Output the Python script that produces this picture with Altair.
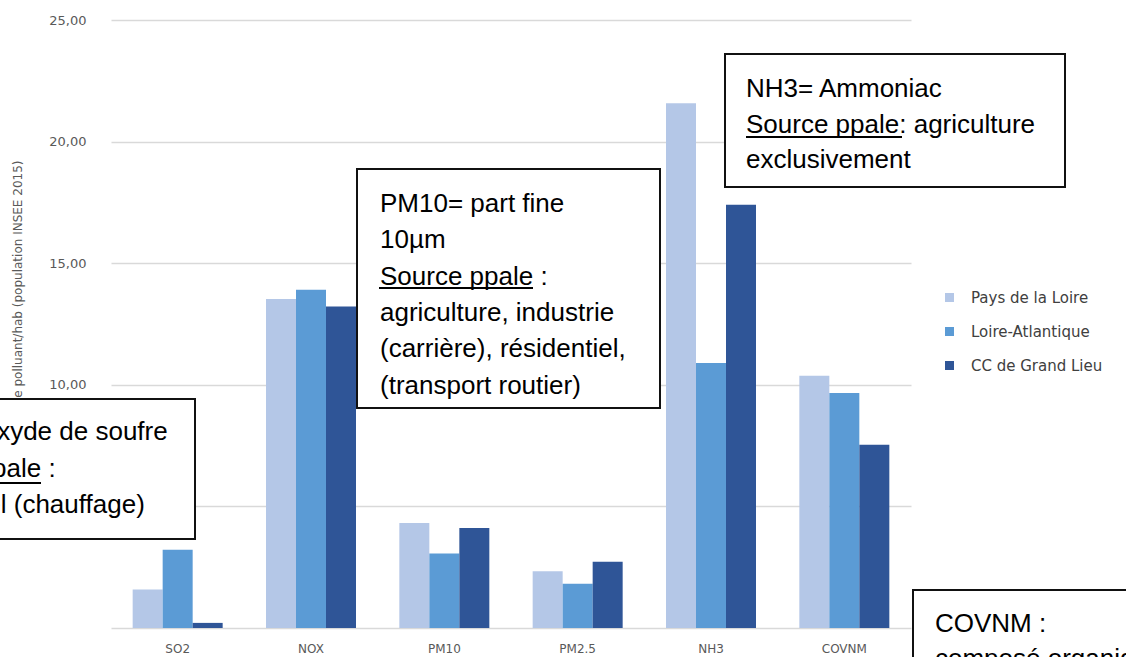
import altair as alt
import pandas as pd

# Emissions per inhabitant, by pollutant and territory
categories = ["SO2", "NOX", "PM10", "PM2.5", "NH3", "COVNM"]
series = ["Pays de la Loire", "Loire-Atlantique", "CC de Grand Lieu"]
pays_de_la_loire = [1.58, 13.53, 4.32, 2.33, 21.58, 10.37]
loire_atlantique = [3.22, 13.91, 3.06, 1.82, 10.90, 9.66]
cc_grand_lieu = [0.21, 13.22, 4.11, 2.72, 17.40, 7.54]
colors = ["#b4c7e7", "#5b9bd5", "#2f5597"]
y_ticks = [0, 5, 10, 15, 20, 25]
y_title = "kg de polluant/hab (population INSEE 2015)"

# Note boxes
so2_lines = ["SO2= dioxyde de soufre", "Source ppale :", "résidentiel (chauffage)"]
pm10_lines = ["PM10= part fine", "10µm", "Source ppale :", "agriculture, industrie",
              "(carrière), résidentiel,", "(transport routier)"]
nh3_lines = ["NH3= Ammoniac", "Source ppale: agriculture", "exclusivement"]
covnm_lines = ["COVNM :", "composé organique volatil non méthanique"]

rows = []
for name, vals in zip(series, [pays_de_la_loire, loire_atlantique, cc_grand_lieu]):
    for cat, v in zip(categories, vals):
        rows.append({"polluant": cat, "territoire": name, "valeur": v})
df = pd.DataFrame(rows)

W, H = 800, 608
LEFT, TOP = 111, 20
FONT = "Liberation Sans"
AXIS_FONT = "DejaVu Sans"

bars = alt.Chart(df).mark_bar().encode(
    x=alt.X("polluant:N", sort=categories,
            scale=alt.Scale(paddingInner=0.325, paddingOuter=0.1625),
            axis=alt.Axis(title=None, labelAngle=0, domain=False, ticks=False,
                          labelPadding=15, labelFontSize=12, labelFont=AXIS_FONT,
                          labelColor="#595959")),
    xOffset=alt.XOffset("territoire:N", sort=series),
    y=alt.Y("valeur:Q", scale=alt.Scale(domain=[0, 25], nice=False),
            axis=alt.Axis(values=y_ticks, title=y_title, domain=False, ticks=False,
                          labelExpr="datum.value == 0 ? '' : replace(format(datum.value, '.2f'), '.', ',')",
                          labelPadding=25, labelFontSize=13, labelFont=AXIS_FONT,
                          labelColor="#595959", gridColor="#d9d9d9", gridWidth=1.5,
                          titleFont=AXIS_FONT, titleFontSize=12, titleFontWeight="normal",
                          titleColor="#595959", titleAlign="right", titleBaseline="middle",
                          titleAngle=270, titleX=-94, titleY=140)),
    color=alt.Color("territoire:N", sort=series,
                    scale=alt.Scale(domain=series, range=colors),
                    legend=alt.Legend(title=None, orient="none", legendX=831, legendY=270,
                                      symbolType="square", symbolSize=81,
                                      symbolStrokeWidth=0, labelFontSize=15,
                                      labelFont=AXIS_FONT, labelColor="#404040",
                                      rowPadding=18, labelOffset=14)),
)

one = alt.Data(values=[{}])


def note(x0, y0, x1, y1, tx, ty, lines, line_h, underline=None):
    """White framed note with text lines and an optional underlined heading."""
    box = alt.Chart(one).mark_rect(fill="white", stroke="#111111", strokeWidth=2).encode(
        x=alt.value(x0 - LEFT), x2=alt.value(x1 - LEFT),
        y=alt.value(y0 - TOP), y2=alt.value(y1 - TOP))
    txt = alt.Chart(one).mark_text(text=lines, align="left", baseline="alphabetic",
                                   font=FONT, fontSize=26, lineHeight=line_h,
                                   color="black").encode(
        x=alt.value(tx - LEFT), y=alt.value(ty - TOP))
    parts = [box, txt]
    if underline is not None:
        ux0, ux1, uy = underline
        parts.append(alt.Chart(one).mark_rule(color="black", strokeWidth=2).encode(
            x=alt.value(ux0 - LEFT), x2=alt.value(ux1 - LEFT), y=alt.value(uy - TOP)))
    return parts


layers = [bars]
layers += note(-20, 399, 195, 539, -112, 440, so2_lines, 36.5, (-112, 41, 483))
layers += note(357, 169, 660, 408, 380, 212, pm10_lines, 36.3, (379, 533, 288))
layers += note(725, 54, 1065, 187, 746, 97, nh3_lines, 35.5, (746, 902, 137))
layers += note(913, 590, 1160, 720, 935, 632, covnm_lines, 35)

chart = alt.layer(*layers).properties(
    width=W, height=H,
    background="white",
    autosize=alt.AutoSizeParams(type="none"),
    padding={"left": LEFT, "top": TOP, "right": 1126 - LEFT - W, "bottom": 657 - TOP - H},
).configure_view(strokeWidth=0)

chart.save("out.html", embed_options={"renderer": "svg", "actions": False})
